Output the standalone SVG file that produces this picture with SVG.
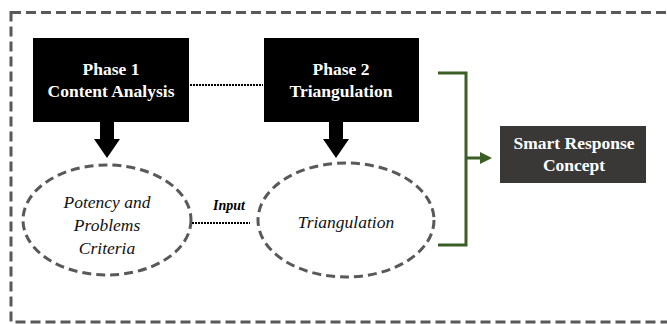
<svg xmlns="http://www.w3.org/2000/svg" width="667" height="324" viewBox="0 0 667 324">
<style>
.box{fill:#000}
.btxt{font-family:"Liberation Serif","Times New Roman",serif;font-weight:bold;font-size:17.5px;fill:#fff;text-anchor:middle}
.itxt{font-family:"Liberation Serif","Times New Roman",serif;font-style:italic;font-size:17.5px;fill:#111;text-anchor:middle}
.ell{fill:none;stroke:#595959;stroke-width:3;stroke-dasharray:9,5}
.dot{stroke:#000;stroke-width:2;stroke-dasharray:2,1;fill:none}
.grn{stroke:#3b5e24;stroke-width:3;fill:none}
</style>
<defs>
<marker id="ga" markerWidth="4" markerHeight="4" refX="2" refY="2" orient="auto" markerUnits="strokeWidth">
<path d="M0,0 L4,2 L0,4 Z" fill="#3b5e24"/>
</marker>
</defs>
<rect x="11" y="12.5" width="670" height="309.5" fill="none" stroke="#595959" stroke-width="3" stroke-dasharray="10,5"/>
<g id="phase1">
<rect class="box" x="33" y="38" width="156" height="84"/>
<text class="btxt" x="111" y="75">Phase 1</text>
<text class="btxt" x="111" y="97">Content Analysis</text>
</g>
<g id="phase2">
<rect class="box" x="264" y="38" width="155" height="84"/>
<text class="btxt" x="341" y="75">Phase 2</text>
<text class="btxt" x="341" y="97">Triangulation</text>
</g>
<g id="criteria">
<ellipse class="ell" cx="107" cy="220" rx="84" ry="55"/>
<text class="itxt" x="107" y="208">Potency and</text>
<text class="itxt" x="107" y="231">Problems</text>
<text class="itxt" x="107" y="254">Criteria</text>
</g>
<g id="triangulation">
<ellipse class="ell" cx="346" cy="220" rx="88" ry="57"/>
<text class="itxt" x="346" y="228">Triangulation</text>
</g>
<g id="smart">
<rect x="500" y="126" width="146" height="57" fill="#3a3836"/>
<text class="btxt" x="574" y="149">Smart Response</text>
<text class="btxt" x="574" y="171">Concept</text>
</g>
<g id="connectors">
<line class="dot" x1="190" y1="85" x2="263" y2="85"/>
<line class="dot" x1="192" y1="223" x2="250" y2="223"/>
<text x="229" y="210" font-family="Liberation Serif, serif" font-weight="bold" font-style="italic" font-size="14" text-anchor="middle" fill="#000">Input</text>
<path d="M100,122 H114 V139 H120 L107,158 L94,139 H100 Z" fill="#000"/>
<path d="M329,122 H343 V139 H349 L336,158 L323,139 H329 Z" fill="#000"/>
<path class="grn" d="M438,73 H466 V245 H438"/>
<line class="grn" x1="466" y1="158" x2="486" y2="158" marker-end="url(#ga)"/>
</g>
</svg>
